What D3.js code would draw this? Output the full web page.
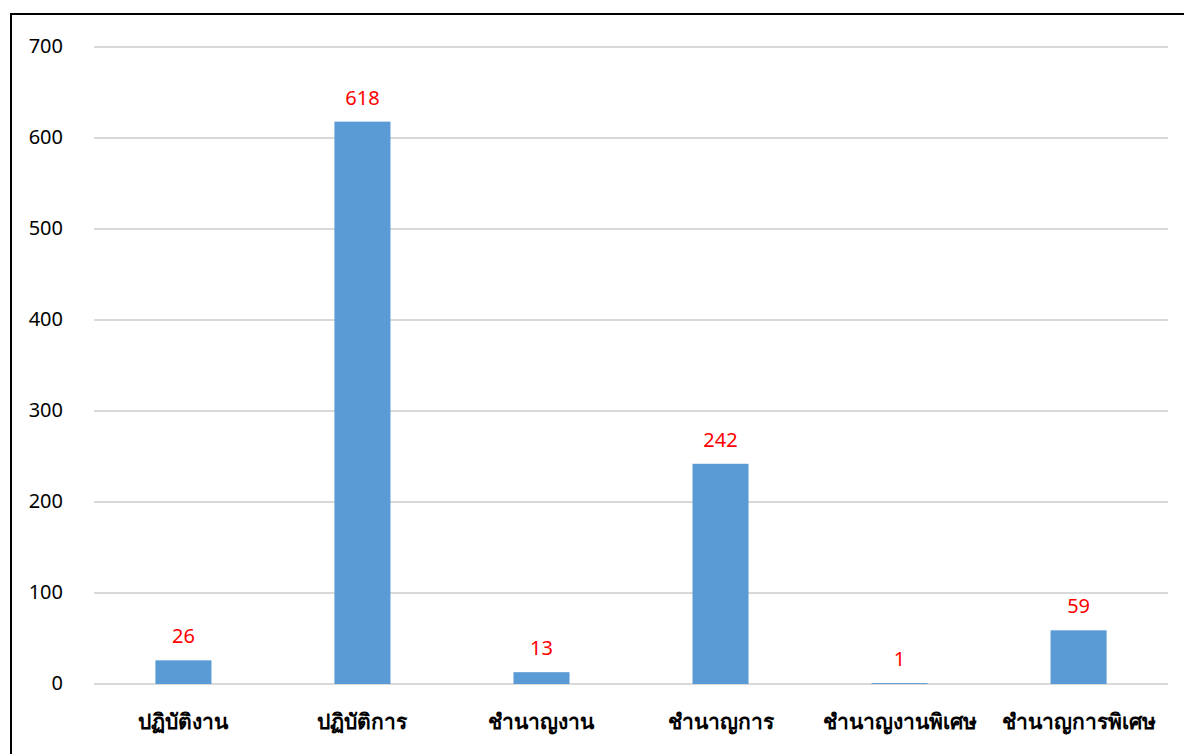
<!DOCTYPE html>
<meta charset="utf-8">
<style>
body {
  margin: 0;
  font-family: "Noto Sans", "Open Sans", sans-serif;
  background: #fff;
}

.grid line {
  stroke: #d9d9d9;
  stroke-width: 2px;
}

.bar {
  fill: #5b9bd5;
}

.value {
  fill: #ff0000;
  font-size: 20px;
  text-anchor: middle;
}

.ytick {
  font-size: 20px;
  fill: #000;
  text-anchor: end;
}

.xlabel {
  font-size: 21px;
  font-weight: bold;
  fill: #000;
  text-anchor: middle;
}
</style>
<body>
<script src="https://cdnjs.cloudflare.com/ajax/libs/d3/7.8.5/d3.min.js"></script>
<script>

var categories = ["ปฏิบัติงาน", "ปฏิบัติการ", "ชำนาญงาน", "ชำนาญการ", "ชำนาญงานพิเศษ", "ชำนาญการพิเศษ"],
    values = [26, 618, 13, 242, 1, 59],
    yTicks = [0, 100, 200, 300, 400, 500, 600, 700];

var width = 1184,
    height = 754,
    plotLeft = 94,
    plotRight = 1168,
    plotTop = 47,
    plotBottom = 684;

var svg = d3.select("body").append("svg")
    .attr("width", width)
    .attr("height", height);

// frame round the chart, runs off the right and bottom edges
svg.append("rect")
    .attr("x", 11)
    .attr("y", 14)
    .attr("width", 1190)
    .attr("height", 760)
    .attr("fill", "none")
    .attr("stroke", "#000")
    .attr("stroke-width", 2);

var x = d3.scaleBand()
    .domain(categories)
    .range([plotLeft, plotRight])
    .paddingInner(0.687)
    .paddingOuter(0.343);

var y = d3.scaleLinear()
    .domain([0, 700])
    .range([plotBottom, plotTop]);

svg.append("g")
    .attr("class", "grid")
  .selectAll("line")
    .data(yTicks)
  .enter().append("line")
    .attr("x1", plotLeft)
    .attr("x2", plotRight)
    .attr("y1", function(d) { return y(d); })
    .attr("y2", function(d) { return y(d); });

svg.selectAll(".ytick")
    .data(yTicks)
  .enter().append("text")
    .attr("class", "ytick")
    .attr("x", 63)
    .attr("y", function(d) { return y(d) - 1; })
    .attr("dy", "0.35em")
    .text(function(d) { return d; });

var data = categories.map(function(c, i) { return {cat: c, value: values[i]}; });

svg.selectAll(".bar")
    .data(data)
  .enter().append("rect")
    .attr("class", "bar")
    .attr("x", function(d) { return x(d.cat); })
    .attr("width", x.bandwidth())
    .attr("y", function(d) { return y(d.value); })
    .attr("height", function(d) { return y(0) - y(d.value); });

svg.selectAll(".value")
    .data(data)
  .enter().append("text")
    .attr("class", "value")
    .attr("x", function(d) { return x(d.cat) + x.bandwidth() / 2; })
    .attr("y", function(d) { return y(d.value) - 17; })
    .text(function(d) { return d.value; });

svg.selectAll(".xlabel")
    .data(categories)
  .enter().append("text")
    .attr("class", "xlabel")
    .attr("x", function(d) { return x(d) + x.bandwidth() / 2; })
    .attr("y", 729)
    .text(function(d) { return d; });

</script>
</body>
